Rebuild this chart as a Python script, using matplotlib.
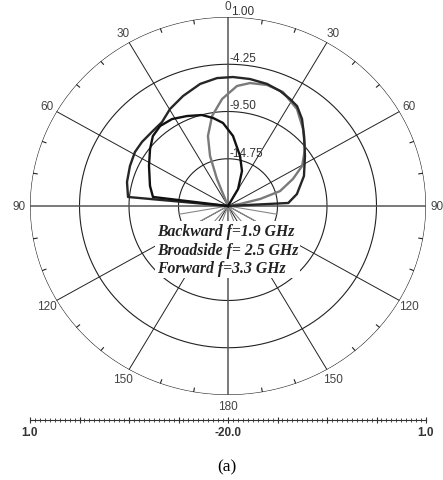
import numpy as np
import matplotlib
matplotlib.use("Agg")
import matplotlib.pyplot as plt

# measured E-plane cuts: angle from broadside (deg, + = clockwise), gain (dB)
backward_deg = [-90, -82.8, -74.9, -62.0, -52.5, -45.7, -39.0, -31.6, -23.5,
                -15.3, -9.2, -3.3, 3.9, 12.9, 20.9, 29.5, 30]
backward_db = [-20, -11.98, -11.43, -10.51, -9.58, -8.87, -8.56, -8.66, -9.1,
               -9.52, -10.09, -10.76, -12.2, -14.29, -15.84, -17.83, -20]

broadside_deg = [-90, -84.6, -76.0, -66.8, -58.7, -52.0, -44.4, -36.9, -29.7,
                 -21.3, -12.3, -4.7, 2.1, 9.4, 17.0, 23.4, 28.9, 33.4, 39.1,
                 46.1, 55.7, 67.5, 79.7, 87.0, 90]
broadside_db = [-20, -9.35, -8.96, -8.69, -8.45, -8.43, -8.47, -8.34, -7.59,
                -6.88, -6.12, -5.74, -5.66, -5.70, -5.82, -6.08, -6.41, -6.70,
                -7.55, -8.80, -10.12, -11.28, -12.57, -13.6, -20]

forward_deg = [-25, -21.3, -18.9, -15.3, -9.6, -3.0, 4.1, 9.7, 17.1, 24.7,
               34.2, 43.0, 52.2, 60.5, 66.4, 73.3, 77.1, 80, 85]
forward_db = [-20, -16.78, -14.12, -11.94, -9.86, -8.09, -6.63, -6.14, -5.93,
              -6.06, -6.98, -8.32, -9.66, -10.97, -12.48, -14.24, -16.5,
              -18.7, -20]

ring_levels = [1.00, -4.25, -9.50, -14.75]
r_min, r_max = -20.0, 1.0
angle_labels = [0, 30, 60, 90, 120, 150, 180, 150, 120, 90, 60, 30]
legend_lines = ["Backward f=1.9 GHz", "Broadside f= 2.5 GHz", "Forward f=3.3 GHz"]

W, H = 443, 481
fig = plt.figure(figsize=(W / 100, H / 100), dpi=100)
fig.patch.set_facecolor("white")

ax = fig.add_axes([30 / W, 85 / H, 396 / W, 378 / H], projection="polar")
ax.set_aspect("auto")
ax.set_theta_zero_location("N")
ax.set_theta_direction(-1)
ax.set_ylim(r_min, r_max)
ax.set_xticks([])
ax.set_yticks([])
ax.grid(False)
ax.spines["polar"].set_visible(False)

full = np.linspace(0, 2 * np.pi, 721)
for lev in ring_levels:
    ax.plot(full, np.full_like(full, lev), color="#222222", lw=0.8, zorder=1)
    ax.annotate(f"{lev:.2f}", (0, lev), xytext=(2.5 if lev == r_max else 1, 0),
                textcoords="offset points", ha="left", va="bottom",
                fontsize=8.5, color="#333333", family="Liberation Sans",
                annotation_clip=False, zorder=4)

# spokes every 30 deg, axis lines a bit heavier
for a in range(0, 360, 30):
    th = np.deg2rad(a)
    main = a % 90 == 0
    ax.plot([th, th], [r_min, r_max], color="#555555" if main else "#222222",
            lw=1.1 if main else 0.7, zorder=1)
# short star near the origin on the back side
for a in range(100, 261, 20):
    th = np.deg2rad(a)
    ax.plot([th, th], [r_min, ring_levels[-1]], color="#888888", lw=0.8, zorder=1)
# 10-deg ticks on the outer ring
for a in range(0, 360, 10):
    if a % 30:
        th = np.deg2rad(a)
        ax.plot([th, th], [r_max - 0.45, r_max], color="#222222", lw=0.8, zorder=1)

for a, lab in zip(range(0, 360, 30), angle_labels):
    ax.text(np.deg2rad(a), r_max + 1.2, str(lab), ha="center",
            va="center", fontsize=8.5, color="#444444",
            family="Liberation Sans", clip_on=False)

ax.plot(np.deg2rad(forward_deg), forward_db, color="#7a7a7a", lw=1.7, zorder=3)
ax.plot(np.deg2rad(broadside_deg), broadside_db, color="#262626", lw=1.7, zorder=3)
ax.plot(np.deg2rad(backward_deg), backward_db, color="#111111", lw=1.7, zorder=3)

fig.text(157 / W, 1 - 224 / H, "\n".join(legend_lines), ha="left", va="top",
         fontsize=11.3, family="Liberation Serif", style="italic", weight="bold",
         color="#222222", linespacing=1.22,
         bbox=dict(facecolor="white", edgecolor="none", pad=1.5))

# folded dB scale bar under the chart
sb = fig.add_axes([30 / W, 1 - 421 / H, 396 / W, 0.001])
span = r_max - r_min
sb.set_xlim(-span, span)
sb.set_ylim(0, 1)
for s in ("left", "right", "top"):
    sb.spines[s].set_visible(False)
sb.spines["bottom"].set_color("#333333")
sb.spines["bottom"].set_linewidth(0.8)
sb.set_yticks([])
major = np.linspace(-span, span, 9)
sb.set_xticks(major)
sb.set_xticks(np.linspace(-span, span, 81), minor=True)
sb.set_xticklabels([f"{r_max:.1f}", "", "", "", f"{r_min:.1f}", "", "", "",
                    f"{r_max:.1f}"])
sb.tick_params(axis="x", which="major", direction="inout", length=5,
               width=0.8, color="#333333", pad=2, labelsize=8.5,
               labelcolor="#333333")
sb.tick_params(axis="x", which="minor", direction="inout", length=2.5,
               width=0.6, color="#333333")
for t in sb.get_xticklabels():
    t.set_family("Liberation Sans")
    t.set_fontweight("bold")
sb.patch.set_visible(False)

fig.text(227 / W, 1 - 467 / H, "(a)", ha="center", va="center", fontsize=12.5,
         family="Liberation Serif")

fig.savefig("out.png", dpi=100)
